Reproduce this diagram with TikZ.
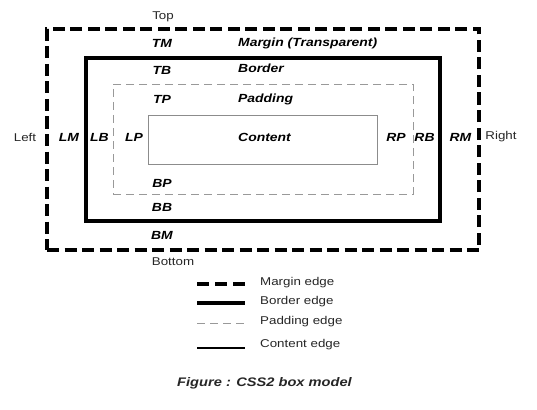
\documentclass[tikz,border=0pt]{standalone}
\usepackage{fontspec}
\setmainfont{Liberation Sans}
\newfontfamily\labfont[FakeStretch=1.18]{Liberation Sans}
\begin{document}
\begin{tikzpicture}[x=1pt,y=-1pt,
  plain/.style={font=\labfont\fontsize{11.3}{13}\selectfont, text=black!85, inner sep=0pt},
  bi/.style={font=\labfont\fontsize{11.8}{13}\selectfont\bfseries\itshape, inner sep=0pt},
  captionstyle/.style={font=\labfont\fontsize{12.4}{14}\selectfont\bfseries\itshape, text=black!85, inner sep=0pt},
  marginedge/.style={line width=3.6pt, dash pattern=on 12pt off 5.5pt},
  borderedge/.style={line width=3.6pt},
  paddingedge/.style={line width=0.9pt, draw=black!40, dash pattern=on 8pt off 5pt},
  contentedge/.style={line width=1pt, draw=black!45},
  box/.style={inner sep=0pt, outer sep=0pt}]
\useasboundingbox (0,0) rectangle (537,409);
% boxes
\node[box, draw, marginedge, minimum width=432pt, minimum height=221pt] (margin) at (263,139.5) {};
\node[box, draw, borderedge, minimum width=354pt, minimum height=163pt] (border) at (263,139.5) {};
\node[box, paddingedge, draw=black!40, minimum width=300pt, minimum height=110pt] (padding) at (263,139) {};
\node[box, contentedge, draw=black!45, minimum width=229pt, minimum height=49pt] (content) at (262.5,139.5) {};
% outer labels
\node[plain] (top) at (163,17) {Top};
\node[plain] (bottom) at (173,262) {Bottom};
\node[plain] (left) at (25,137) {Left};
\node[plain] (right) at (501,137) {Right};
% inner labels
\node[bi] (tm) at (162,43) {TM};
\node[bi] (tb) at (162,70) {TB};
\node[bi] (tp) at (162,99) {TP};
\node[bi] (bp) at (162,183) {BP};
\node[bi] (bb) at (162,207) {BB};
\node[bi] (bm) at (162,235) {BM};
\node[bi] (lm) at (69,137) {LM};
\node[bi] (lb) at (99.5,137) {LB};
\node[bi] (lp) at (134,137) {LP};
\node[bi] (rp) at (396,137) {RP};
\node[bi] (rb) at (424.5,137) {RB};
\node[bi] (rm) at (460.5,137) {RM};
\node[bi, anchor=west] (mt) at (238,43) {Margin (Transparent)};
\node[bi, anchor=west] (bt) at (238,68) {Border};
\node[bi, anchor=west] (pt) at (238,99) {Padding};
\node[bi, anchor=west] (ct) at (238,137) {Content};
% legend
\coordinate (l1a) at (197,284); \coordinate (l1b) at (245,284);
\coordinate (l2a) at (197,303); \coordinate (l2b) at (245,303);
\coordinate (l3a) at (197,323); \coordinate (l3b) at (245,323);
\coordinate (l4a) at (197,348); \coordinate (l4b) at (245,348);
\draw[line width=3.4pt, dash pattern=on 12pt off 6pt] (l1a) -- (l1b);
\draw[borderedge] (l2a) -- (l2b);
\draw[paddingedge] (l3a) -- (l3b);
\draw[line width=1.2pt] (l4a) -- (l4b);
\node[plain, anchor=west] (lg1) at (260,282.5) {Margin edge};
\node[plain, anchor=west] (lg2) at (260,302) {Border edge};
\node[plain, anchor=west] (lg3) at (260,322) {Padding edge};
\node[plain, anchor=west] (lg4) at (260,344.5) {Content edge};
\node[captionstyle] (caption) at (264.5,383) {Figure : CSS2 box model};
\end{tikzpicture}
\end{document}
